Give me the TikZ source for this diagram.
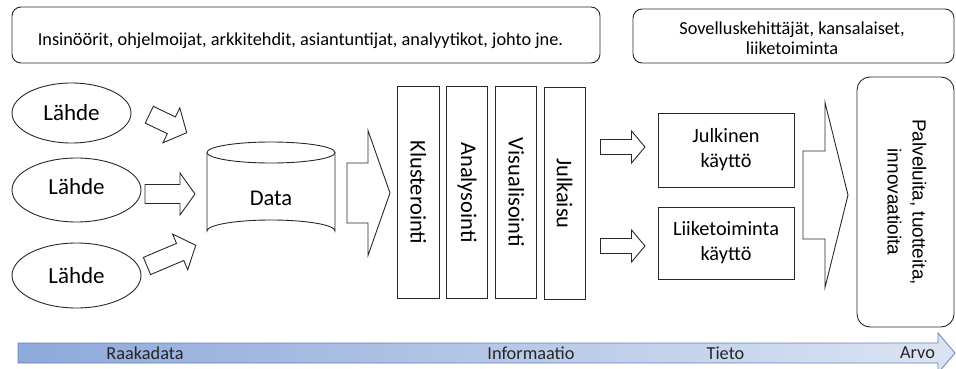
\documentclass[tikz,border=0pt]{standalone}
\usepackage{fontspec}
\usetikzlibrary{shapes.geometric}
\setmainfont{Carlito}
\newfontfamily\arialfont{Liberation Sans}
\definecolor{edge}{RGB}{40,40,40}
\definecolor{bandleft}{RGB}{142,169,219}
\definecolor{bandright}{RGB}{220,228,243}
\definecolor{bandedge}{RGB}{100,130,182}
% hollow block arrow: #1 tail point, #2 angle, #3 length, #4 head length,
% #5 shaft half width, #6 head half width
\newcommand\hollowarrow[6]{%
  \draw[outline, shift={#1}, rotate=#2]
    (0,-#5) -- ({#3-#4},-#5) -- ({#3-#4},-#6) -- (#3,0)
    -- ({#3-#4},#6) -- ({#3-#4},#5) -- (0,#5) -- cycle;}
\begin{document}
\begin{tikzpicture}[x=1pt,y=-1pt,
  outline/.style={draw=edge, line width=0.9pt, line join=miter},
  rbox/.style={outline, rounded corners=9pt, rectangle, inner sep=0pt},
  sbox/.style={outline, rectangle, inner sep=0pt},
  src/.style={outline, ellipse, inner sep=0pt},
  lbl/.style={inner sep=0pt, font=\fontsize{23}{27}\selectfont},
  vlbl/.style={inner sep=0pt, rotate=-90, font=\fontsize{22.4}{26}\selectfont},
  use/.style={inner sep=0pt, align=center, font=\fontsize{20.3}{25}\selectfont},
  small/.style={inner sep=0pt, align=center, font=\fontsize{18.3}{20.5}\selectfont},
  band/.style={inner sep=0pt, font=\fontsize{18.3}{21}\selectfont, text=black!85}]
\useasboundingbox (0,0) rectangle (956,369);

% groups of people
\node[rbox, minimum width=588, minimum height=56] (experts) at (306,35) {};
\node[small] (expertstext) at (300.5,41) {Insinöörit, ohjelmoijat, arkkitehdit, asiantuntijat, analyytikot, johto jne.};
\node[rbox, minimum width=321, minimum height=54] (users) at (793.5,36) {};
\node[small] (userstext) at (792,38) {Sovelluskehittäjät, kansalaiset,\\liiketoiminta};

% sources
\node[src, minimum width=119, minimum height=60] (s1) at (71.5,113) {};
\node[src, minimum width=129, minimum height=64] (s2) at (76.5,190) {};
\node[src, minimum width=129, minimum height=65] (s3) at (76.5,275.5) {};
\node[lbl] at (s1) {Lähde};
\node[lbl] at ([yshift=3pt]s2) {Lähde};
\node[lbl] at (s3) {Lähde};

\hollowarrow{(149.3,114.7)}{-25.7}{41.5}{17}{9.3}{19.4}
\hollowarrow{(145,194)}{0}{50}{15}{9.5}{21}
\hollowarrow{(147,266)}{23}{53}{17}{9.3}{19.4}

% data store
\draw[outline] (207,152.5) arc[start angle=180, end angle=-180, x radius=64, y radius=10.5];
\draw[outline] (207,152.5) -- (207,231) arc[start angle=180, end angle=360, x radius=64, y radius=11] -- (335,152.5);
\node[font=\fontsize{22.5}{26}\selectfont, inner sep=0pt] (data) at (271,198) {Data};

\hollowarrow{(347,193)}{0}{43}{22}{30}{62.5}

% processing steps
\node[sbox, minimum width=42, minimum height=212] (k) at (418.3,192.5) {};
\node[sbox, minimum width=41, minimum height=212] (a) at (467.2,192.5) {};
\node[sbox, minimum width=41, minimum height=212] (v) at (516.3,192.5) {};
\node[sbox, minimum width=41, minimum height=212] (j) at (564.5,193.5) {};
\node[vlbl] at (k) {Klusterointi};
\node[vlbl] at (a) {Analysointi};
\node[vlbl] at (v) {Visualisointi};
\node[vlbl] at (j) {Julkaisu};

\hollowarrow{(600.5,147)}{0}{44.5}{13.5}{7.5}{16}
\hollowarrow{(600.5,246)}{0}{44.5}{13.5}{7.5}{16}

% uses
\node[sbox, minimum width=136, minimum height=74] (pub) at (726,150) {};
\node[use] at (pub) {Julkinen\\käyttö};
\node[sbox, minimum width=136, minimum height=72] (biz) at (726,243) {};
\node[use] at (biz) {Liiketoiminta\\käyttö};

\hollowarrow{(803,195)}{0}{45}{23}{44}{92.5}

% outcome
\node[rbox, rounded corners=13pt, minimum width=97, minimum height=250] (out) at (905.5,202) {};
\node[inner sep=0pt, rotate=-90, align=center, font=\arialfont\fontsize{19}{25}\selectfont] at ([xshift=1.5pt]out.center) {Palveluita, tuotteita,\\innovaatioita};

% value chain band
\shadedraw[left color=bandleft, right color=bandright, draw=bandedge, line width=0.8pt]
  (18,343) -- (938,343) -- (938,333) -- (955,353) -- (938,373) -- (938,363) -- (18,363) -- cycle;
\node[band] (raw) at (145,353) {Raakadata};
\node[band] (info) at (531,353) {Informaatio};
\node[band] (know) at (725.5,353) {Tieto};
\node[band] (value) at (917.5,353) {Arvo};
\end{tikzpicture}
\end{document}
